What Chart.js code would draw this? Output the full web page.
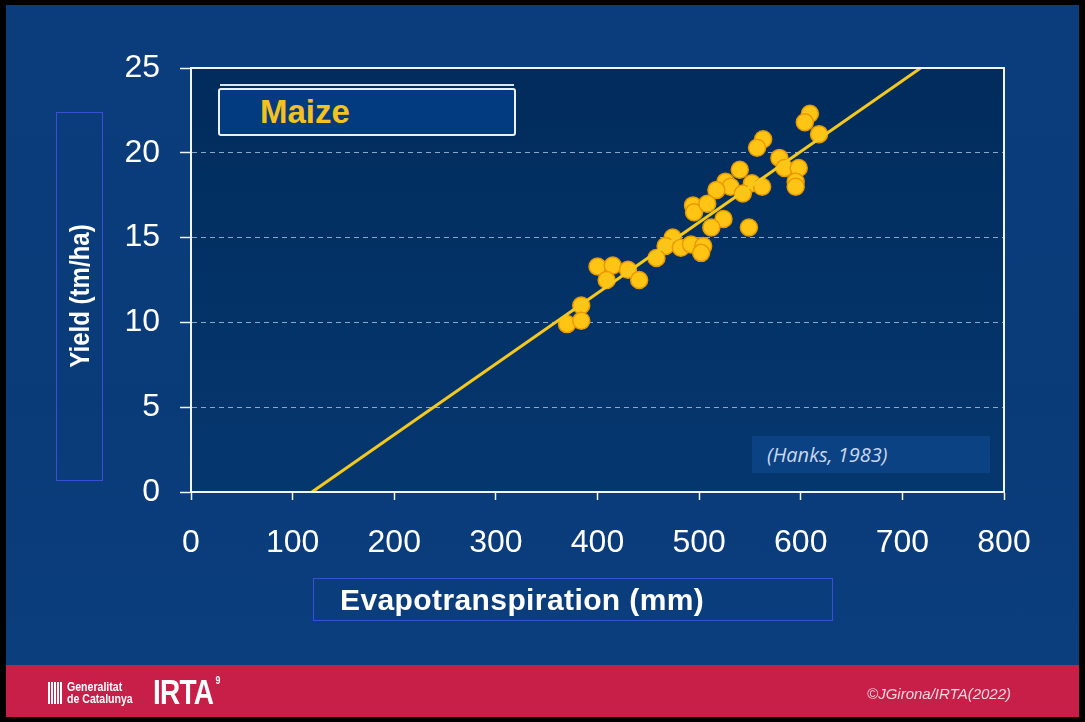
<!DOCTYPE html>
<html>
<head>
<meta charset="utf-8">
<script src="https://cdn.jsdelivr.net/npm/chart.js@4.4.1/dist/chart.umd.min.js"></script>
<style>
  html, body { margin: 0; padding: 0; background: #000; }
  #page {
    position: relative; width: 1085px; height: 722px; overflow: hidden;
    background: #000; font-family: "Liberation Sans", Arial, sans-serif;
  }
  #slide {
    position: absolute; left: 6px; top: 5px; width: 1073px; height: 660px;
    background: linear-gradient(180deg, #0b3d7c 0%, #0a3b79 60%, #0b3e7d 100%);
  }
  #footer {
    position: absolute; left: 6px; top: 665px; width: 1073px; height: 52px;
    background: #c81f48;
  }
  #chart-wrap { position: absolute; left: 0; top: 0; width: 1085px; height: 722px; }
  .box { position: absolute; box-sizing: border-box; }
  #ytitle-box { left: 56px; top: 112px; width: 47px; height: 369px; border: 1.5px solid #3a4ed8; }
  #ytitle {
    position: absolute; left: 80px; top: 296px; color: #fff; font-weight: bold; font-size: 27px;
    white-space: nowrap; transform: translate(-50%, -50%) rotate(-90deg) scaleX(0.89);
  }
  #xtitle-box {
    left: 313px; top: 578px; width: 520px; height: 43px; border: 1.5px solid #3a4ed8;
    color: #fff; font-weight: bold; font-size: 30px; padding-left: 26px; line-height: 42px;
    letter-spacing: 0.4px; white-space: nowrap;
  }
  #maize-box {
    left: 218px; top: 88px; width: 298px; height: 48px; border: 2.5px solid #e8f2fb;
    border-radius: 3px; background: #023b80; color: #f3c21f; font-weight: bold;
    font-size: 33px; padding-left: 40px; line-height: 44px;
  }
  #maize-line { left: 220px; top: 84px; width: 294px; height: 2px; background: #d8e6f4; }
  #hanks-box {
    left: 752px; top: 436px; width: 238px; height: 37px; background: #0b4284;
    color: #c9d8ee; font-style: italic; font-size: 20px; padding-left: 15px; line-height: 37px;
    font-family: "Open Sans", sans-serif; white-space: nowrap;
  }
  #copy {
    position: absolute; right: 74px; top: 685px; color: #f6d6de; font-style: italic; font-size: 15px;
  }
  #gen { position: absolute; left: 48px; top: 681px; color: #fff; }
  #gen .flag {
    position: absolute; left: 0; top: 1px; width: 15px; height: 22px;
    background: repeating-linear-gradient(90deg, #fff 0 2px, #c81f48 2px 3px);
  }
  #gen .txt {
    position: absolute; left: 19px; top: 0; font-size: 12px; line-height: 12px; font-weight: bold;
    white-space: nowrap; transform: scaleX(0.88); transform-origin: left top;
  }
  #irta {
    position: absolute; left: 153px; top: 672px; color: #fff; font-weight: 900; font-size: 35px;
    transform: scaleX(0.8); transform-origin: left top; letter-spacing: -1px; white-space: nowrap;
  }
  #irta sup { font-size: 11px; vertical-align: top; position: relative; top: 2px; margin-left: 3px; }
</style>
</head>
<body>
<div id="page">
  <div id="slide"></div>
  <div id="footer"></div>
  <div id="chart-wrap"><canvas id="chart" width="1085" height="722"></canvas></div>
  <div class="box" id="ytitle-box"></div>
  <div id="ytitle">Yield (tm/ha)</div>
  <div class="box" id="xtitle-box">Evapotranspiration (mm)</div>
  <div class="box" id="maize-line"></div>
  <div class="box" id="maize-box">Maize</div>
  <div class="box" id="hanks-box">(Hanks, 1983)</div>
  <div id="gen"><div class="flag"></div><div class="txt">Generalitat<br>de Catalunya</div></div>
  <div id="irta">IRTA<sup>9</sup></div>
  <div id="copy">©JGirona/IRTA(2022)</div>
</div>
<script>
// measured points (evapotranspiration mm, yield tm/ha)
const etValues = [
  609, 604, 618, 563, 557, 579, 584, 598, 595, 595,
  540, 526, 531, 517, 552, 562, 543, 494, 495, 508,
  524, 512, 549, 474, 467, 482, 492, 504, 502, 458,
  400, 415, 430, 409, 441, 384, 370, 384,
];
const yieldValues = [
  22.3, 21.8, 21.1, 20.8, 20.3, 19.7, 19.1, 19.1, 18.3, 18.0,
  19.0, 18.3, 18.0, 17.8, 18.2, 18.0, 17.6, 16.9, 16.5, 17.0,
  16.1, 15.6, 15.6, 15.0, 14.5, 14.4, 14.6, 14.5, 14.1, 13.8,
  13.3, 13.35, 13.1, 12.5, 12.5, 11.0, 9.9, 10.1,
];

// fitted line endpoints
const fitX = [119, 718];
const fitY = [0, 25];

// axis ticks
const xTicks = [0, 100, 200, 300, 400, 500, 600, 700, 800];
const yTicks = [0, 5, 10, 15, 20, 25];

const points = etValues.map((x, i) => ({ x: x, y: yieldValues[i] }));
const fitLine = fitX.map((x, i) => ({ x: x, y: fitY[i] }));

const plotFrame = {
  id: "plotFrame",
  beforeDraw(chart) {
    const { ctx, chartArea: a } = chart;
    const g = ctx.createLinearGradient(0, a.top, 0, a.bottom);
    g.addColorStop(0, "#012c5c");
    g.addColorStop(1, "#05376f");
    ctx.save();
    ctx.fillStyle = g;
    ctx.fillRect(a.left, a.top, a.right - a.left, a.bottom - a.top);
    ctx.restore();
  },
  afterDraw(chart) {
    const { ctx, chartArea: a } = chart;
    ctx.save();
    ctx.strokeStyle = "#eef5fb";
    ctx.lineWidth = 2;
    ctx.strokeRect(a.left, a.top, a.right - a.left, a.bottom - a.top);
    ctx.restore();
  },
};

const tickFont = { family: "Liberation Sans", size: 32 };

const config = {
  data: {
    datasets: [
      {
        type: "line",
        data: fitLine,
        borderColor: "#f4c81c",
        borderWidth: 3,
        pointRadius: 0,
        fill: false,
      },
      {
        type: "scatter",
        data: points,
        pointRadius: 8.5,
        pointBackgroundColor: "#ffc414",
        pointBorderColor: "#e89a00",
        pointBorderWidth: 1.5,
      },
    ],
  },
  plugins: [plotFrame],
  options: {
    responsive: false,
    animation: false,
    layout: { padding: { top: 68, right: 81, left: 0, bottom: 0 } },
    plugins: { legend: { display: false }, tooltip: { enabled: false } },
    scales: {
      x: {
        type: "linear",
        min: xTicks[0],
        max: xTicks[xTicks.length - 1],
        afterBuildTicks: (s) => { s.ticks = xTicks.map((v) => ({ value: v })); },
        afterFit: (s) => { s.height = 230; },
        grid: { drawOnChartArea: false, drawTicks: true, tickLength: 8, tickColor: "#eef5fb", tickWidth: 1.5 },
        border: { display: true, color: "#eef5fb", width: 2 },
        ticks: { color: "#ffffff", padding: 24, font: tickFont },
      },
      y: {
        type: "linear",
        min: yTicks[0],
        max: yTicks[yTicks.length - 1],
        afterBuildTicks: (s) => { s.ticks = yTicks.map((v) => ({ value: v })); },
        afterFit: (s) => { s.width = 191; },
        grid: {
          color: (c) => (c.tick && c.tick.value > 0 && c.tick.value < 25 ? "rgba(160,190,225,0.85)" : "rgba(0,0,0,0)"),
          lineWidth: 1,
          drawTicks: true,
          tickLength: 11,
          tickColor: "#eef5fb",
          tickWidth: 1.5,
        },
        border: { display: true, color: "#eef5fb", width: 2, dash: [5, 4] },
        ticks: { color: "#ffffff", padding: 20, font: tickFont },
      },
    },
  },
};

new Chart(document.getElementById("chart"), config);
</script>
</body>
</html>
